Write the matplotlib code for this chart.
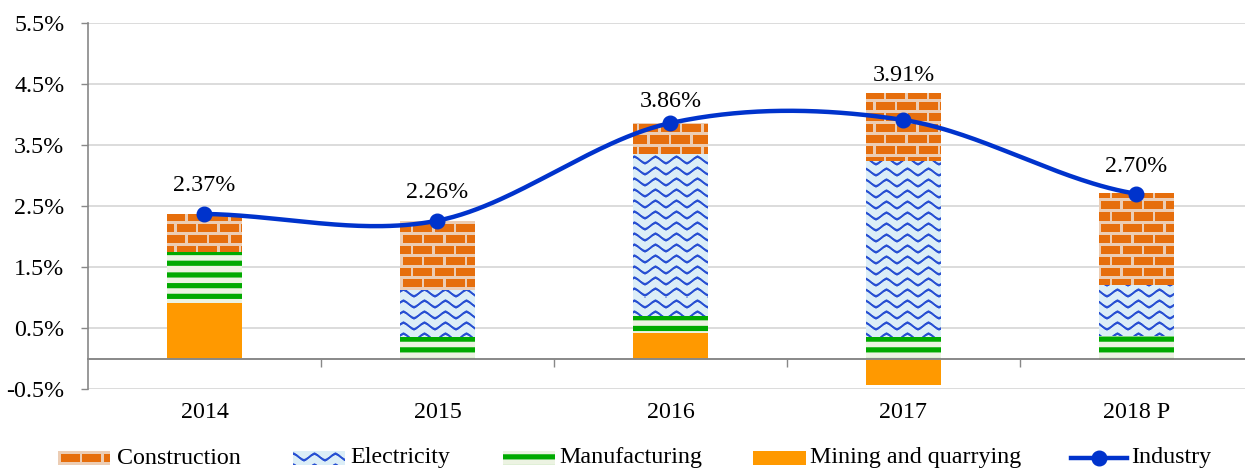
import numpy as np
import matplotlib
matplotlib.use('Agg')
import matplotlib.pyplot as plt
import matplotlib.transforms as mtransforms
from matplotlib.lines import Line2D

# ---------------- data ----------------
years = ['2014', '2015', '2016', '2017', '2018 P']
mining = [0.91, 0.00, 0.42, -0.44, -0.02]
manufacturing = [0.84, 0.36, 0.27, 0.35, 0.37]
electricity = [0.00, 0.77, 2.66, 2.88, 0.83]
construction = [0.62, 1.13, 0.51, 1.12, 1.52]
industry = [2.37, 2.26, 3.86, 3.91, 2.70]
yticks = [-0.5, 0.5, 1.5, 2.5, 3.5, 4.5, 5.5]
legend_labels = ['Construction', 'Electricity', 'Manufacturing', 'Mining and quarrying', 'Industry']

# label offsets above points (pixels) – layout only
label_offsets_px = [28, 28, 22, 44, 27]

plt.rcParams['font.family'] = ['Liberation Serif', 'DejaVu Serif']
FS = 17.3

FW, FH, DPI = 1245, 470, 100
fig = plt.figure(figsize=(FW / DPI, FH / DPI), dpi=DPI)
AX_L, AX_R, AX_T, AX_B = 88, 1253, 23, 389
ax = fig.add_axes([AX_L / FW, 1 - AX_B / FH, (AX_R - AX_L) / FW, (AX_B - AX_T) / FH])
AW, AH = AX_R - AX_L, AX_B - AX_T


def rgb(*c):
    return np.array(c, dtype=float) / 255.0


# ---------------- textures ----------------
def tex_brick(h, w):
    y, x = np.mgrid[0:h, 0:w].astype(float)
    rp, bp, m = 11.0, 21.5, 2.3
    row = np.floor(y / rp)
    yin = y - row * rp
    xin = np.mod(x + (row % 2) * bp / 2, bp)
    mortar = (yin < m) | (xin < m)
    brick_c, mortar_c = rgb(230, 110, 12), rgb(236, 205, 180)
    return np.where(mortar[..., None], mortar_c, brick_c)


def tex_wave(h, w):
    y, x = np.mgrid[0:h, 0:w].astype(float)
    per, lam, A, th = 11.0, 21.0, 3.3, 1.3
    ph = np.mod(x / lam, 1.0)
    tri = 1 - 4 * np.abs(ph - 0.5)          # triangle wave in [-1, 1]
    sn = np.sin(2 * np.pi * (ph - 0.25))
    shape = 0.5 * tri + 0.5 * sn
    yc = y - A * shape
    d = np.abs(np.mod(yc, per) - per / 2)
    a = np.clip(th + 0.5 - d, 0, 1)[..., None]
    bg, ln = rgb(220, 238, 247), rgb(40, 80, 210)
    return bg * (1 - a) + ln * a


def tex_stripe(h, w):
    y, x = np.mgrid[0:h, 0:w].astype(float)
    per, th = 10.7, 2.6
    d = np.abs(np.mod(y, per) - per / 2)
    a = np.clip(th + 0.5 - d, 0, 1)[..., None]
    bg, ln = rgb(236, 243, 226), rgb(0, 170, 0)
    return bg * (1 - a) + ln * a


MINING_C = '#FF9900'
LINE_C = '#0033CC'

textures = {
    'construction': tex_brick(AH, AW),
    'electricity': tex_wave(AH, AW),
    'manufacturing': tex_stripe(AH, AW),
}

# ---------------- stacked bars ----------------
x = np.arange(len(years))
width = 0.32
pos_base = np.zeros(len(years))
neg_base = np.zeros(len(years))

series = [('mining', mining), ('manufacturing', manufacturing),
          ('electricity', electricity), ('construction', construction)]

for name, vals in series:
    vals = np.asarray(vals, dtype=float)
    bottoms = np.where(vals >= 0, pos_base, neg_base)
    if name == 'mining':
        ax.bar(x, vals, width, bottom=bottoms, color=MINING_C, linewidth=0, zorder=2)
    else:
        bars = ax.bar(x, vals, width, bottom=bottoms, facecolor='none', linewidth=0, zorder=2)
        for b, v in zip(bars, vals):
            if v == 0:
                continue
            im = ax.imshow(textures[name], extent=(0, 1, 0, 1), transform=ax.transAxes,
                           aspect='auto', interpolation='nearest', zorder=2)
            im.set_clip_path(b)
    pos_base = pos_base + np.where(vals >= 0, vals, 0)
    neg_base = neg_base + np.where(vals < 0, vals, 0)

# ---------------- smoothed industry line ----------------
yv = np.asarray(industry, dtype=float)
n = len(yv)
tang = np.zeros(n)
for i in range(n):
    lo, hi = max(i - 1, 0), min(i + 1, n - 1)
    tang[i] = (yv[hi] - yv[lo]) / 2.0
xs, ys = [], []
for i in range(n - 1):
    t = np.linspace(0, 1, 60)
    h00 = 2 * t**3 - 3 * t**2 + 1
    h10 = t**3 - 2 * t**2 + t
    h01 = -2 * t**3 + 3 * t**2
    h11 = t**3 - t**2
    xs.append(i + t)
    ys.append(h00 * yv[i] + h10 * tang[i] + h01 * yv[i + 1] + h11 * tang[i + 1])
ax.plot(np.concatenate(xs), np.concatenate(ys), color=LINE_C, lw=3.2, zorder=4,
        solid_capstyle='round')
ax.plot(x, yv, 'o', color=LINE_C, ms=10.5, zorder=5)

for xi, v, off in zip(x, industry, label_offsets_px):
    ax.annotate(f'{v:.2f}%', (xi, v), xytext=(0, off * 72 / DPI), textcoords='offset points',
                ha='center', va='center', fontsize=FS, zorder=6)

# ---------------- axes styling ----------------
ax.set_xlim(-0.5, len(years) - 0.5)
ax.set_ylim(yticks[0], yticks[-1])
ax.set_yticks(yticks)
ax.set_yticklabels([f'{t:.1f}%' for t in yticks], fontsize=FS)
ax.tick_params(axis='y', length=5, width=1.0, color='#888888', pad=12)
ax.yaxis.grid(True, color='#D9D9D9', lw=1.3)
ax.set_axisbelow(True)

ax.spines['top'].set_visible(False)
ax.spines['right'].set_visible(False)
ax.spines['left'].set_color('#888888')
ax.spines['left'].set_linewidth(1.2)
ax.spines['bottom'].set_position(('data', 0))
ax.spines['bottom'].set_color('#888888')
ax.spines['bottom'].set_linewidth(1.4)
ax.set_xticks(np.arange(len(years) - 1) + 0.5)
ax.set_xticklabels([])
ax.tick_params(axis='x', length=6, width=1.0, color='#888888', direction='out')

trans = mtransforms.blended_transform_factory(ax.transData, ax.transAxes)
for xi, lab in zip(x, years):
    ax.text(xi, -24 / AH, lab, transform=trans, ha='center', va='center', fontsize=FS)

# ---------------- legend (manual) ----------------
LEG_Y0, LEG_Y1, LEG_YC = 451, 465, 458
sw = [(58, 110, 117, 'construction'), (293, 345, 350, 'electricity'),
      (503, 555, 559, 'manufacturing'), (753, 805, 810, 'mining')]
for (x0, x1, tx, name), lab in zip(sw, legend_labels[:4]):
    sax = fig.add_axes([x0 / FW, 1 - LEG_Y1 / FH, (x1 - x0) / FW, (LEG_Y1 - LEG_Y0) / FH])
    sax.set_axis_off()
    hh, ww = LEG_Y1 - LEG_Y0, x1 - x0
    if name == 'construction':
        img = tex_brick(hh, ww)
    elif name == 'electricity':
        img = tex_wave(hh, ww)
    elif name == 'manufacturing':
        img = tex_stripe(hh, ww)
    else:
        img = np.ones((hh, ww, 3)) * rgb(255, 153, 0)
    sax.imshow(img, aspect='auto', interpolation='nearest')
    fig.text(tx / FW, 1 - LEG_YC / FH, lab, ha='left', va='center', fontsize=FS)

fig.add_artist(Line2D([1071 / FW, 1127 / FW], [1 - LEG_YC / FH] * 2, color=LINE_C, lw=3.2,
                      transform=fig.transFigure))
fig.add_artist(Line2D([1099 / FW], [1 - LEG_YC / FH], marker='o', ms=10.5, color=LINE_C,
                      transform=fig.transFigure))
fig.text(1131 / FW, 1 - LEG_YC / FH, legend_labels[4], ha='left', va='center', fontsize=FS)

fig.savefig('out.png', dpi=DPI)
